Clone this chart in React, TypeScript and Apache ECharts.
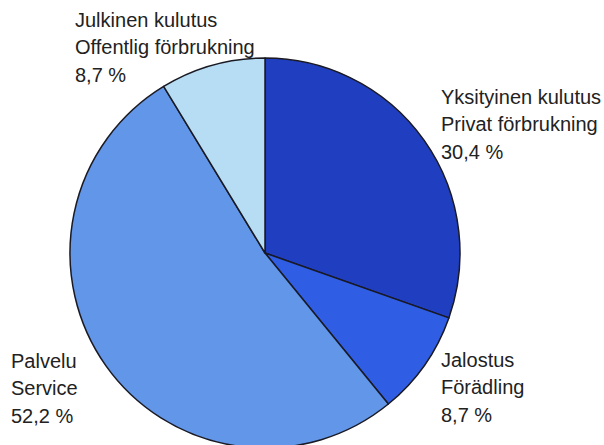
import React, { useEffect, useRef } from "react";
import * as echarts from "echarts";

const namesFi = ["Yksityinen kulutus", "Jalostus", "Palvelu", "Julkinen kulutus"];
const namesSv = ["Privat förbrukning", "Förädling", "Service", "Offentlig förbrukning"];
const shares = [30.4, 8.7, 52.2, 8.7];
const colors = ["#1f3fc0", "#2f5de3", "#6196e8", "#b7ddf4"];
const labelPos = [
  [441, 83],
  [441, 346],
  [11, 347],
  [75, 6],
];

export default function App() {
  const ref = useRef<HTMLDivElement>(null);
  useEffect(() => {
    if (!ref.current) return;
    const chart = echarts.init(ref.current, null, { renderer: "svg" });
    chart.setOption({
      animation: false,
      backgroundColor: "#ffffff",
      series: [
        {
          type: "pie",
          center: [265, 253],
          radius: 195,
          startAngle: 90,
          clockwise: true,
          avoidLabelOverlap: false,
          itemStyle: { borderColor: "#1a1a24", borderWidth: 1.5 },
          label: {
            show: true,
            position: "outside",
            fontFamily: "Liberation Sans, Arial, sans-serif",
            fontSize: 20,
            lineHeight: 27.5,
            color: "#222222",
            align: "left",
            formatter: (p: any) =>
              `${namesFi[p.dataIndex]}\n${namesSv[p.dataIndex]}\n${shares[p.dataIndex]
                .toFixed(1)
                .replace(".", ",")} %`,
          },
          labelLine: { show: false },
          labelLayout: (p: any) => ({
            x: labelPos[p.dataIndex][0],
            y: labelPos[p.dataIndex][1],
            align: "left",
            verticalAlign: "top",
          }),
          emphasis: { disabled: true },
          data: shares.map((v, i) => ({
            name: namesFi[i],
            value: v,
            itemStyle: { color: colors[i] },
          })),
        },
      ],
    });
    return () => chart.dispose();
  }, []);
  return (
    <div
      ref={ref}
      style={{ position: "fixed", left: 0, top: 0, width: 604, height: 445 }}
    />
  );
}
